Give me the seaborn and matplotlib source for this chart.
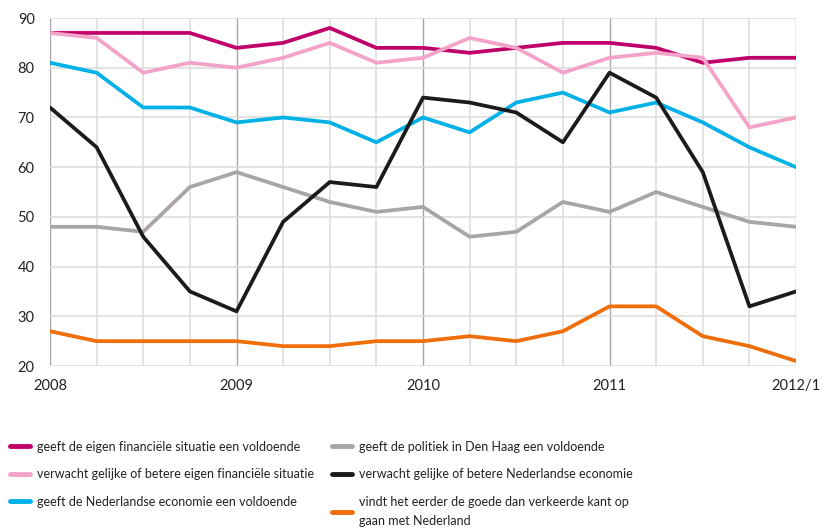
import numpy as np
import pandas as pd
import seaborn as sns
import matplotlib.pyplot as plt
from matplotlib.ticker import MultipleLocator

# quarterly points, 2008 .. 2012/1
quarters = list(range(17))
tick_pos = [0, 4, 8, 12, 16]
tick_labels = ['2008', '2009', '2010', '2011', '2012/1']

eigen_voldoende = [87, 87, 87, 87, 84, 85, 88, 84, 84, 83, 84, 85, 85, 84, 81, 82, 82]
eigen_verwacht = [87, 86, 79, 81, 80, 82, 85, 81, 82, 86, 84, 79, 82, 83, 82, 68, 70]
economie_voldoende = [81, 79, 72, 72, 69, 70, 69, 65, 70, 67, 73, 75, 71, 73, 69, 64, 60]
politiek_voldoende = [48, 48, 47, 56, 59, 56, 53, 51, 52, 46, 47, 53, 51, 55, 52, 49, 48]
economie_verwacht = [72, 64, 46, 35, 31, 49, 57, 56, 74, 73, 71, 65, 79, 74, 59, 32, 35]
goede_kant = [27, 25, 25, 25, 25, 24, 24, 25, 25, 26, 25, 27, 32, 32, 26, 24, 21]

labels = [
    'geeft de eigen financiële situatie een voldoende',
    'verwacht gelijke of betere eigen financiële situatie',
    'geeft de Nederlandse economie een voldoende',
    'geeft de politiek in Den Haag een voldoende',
    'verwacht gelijke of betere Nederlandse economie',
    'vindt het eerder de goede dan verkeerde kant op\ngaan met Nederland',
]
series = [eigen_voldoende, eigen_verwacht, economie_voldoende,
          politiek_voldoende, economie_verwacht, goede_kant]
colors = ['#c0006a', '#f4a3c8', '#00b1e8', '#a9a5a6', '#1b1a1c', '#ef6e0a']

frames = []
for lab, vals in zip(labels, series):
    frames.append(pd.DataFrame({'kwartaal': quarters, 'waarde': vals, 'reeks': lab}))
data = pd.concat(frames)

sns.set_style('white')
plt.rcParams['font.family'] = ['Lato', 'DejaVu Sans']

fig = plt.figure(figsize=(8.28, 5.30), dpi=100)
ax = fig.add_axes([0.0604, 0.3094, 0.901, 0.6566])

sns.lineplot(data=data, x='kwartaal', y='waarde', hue='reeks', hue_order=labels,
             palette=dict(zip(labels, colors)), linewidth=2.7, ax=ax, legend=False)

ax.set_xlim(0, 16)
ax.set_ylim(20, 90)
ax.set_xlabel('')
ax.set_ylabel('')
for s in ax.spines.values():
    s.set_visible(False)

ax.set_xticks(tick_pos)
ax.set_xticklabels(tick_labels)
ax.xaxis.set_minor_locator(MultipleLocator(1))
ax.set_yticks(range(20, 91, 10))
ax.grid(which='both', axis='x', color='#dddbdc', linewidth=1.1, zorder=0)
ax.grid(which='major', axis='x', color='#aaa6a7', linewidth=1.0, zorder=0)
ax.grid(which='major', axis='y', color='#dddbdc', linewidth=1.1, zorder=0)
ax.set_axisbelow(True)
ax.tick_params(axis='x', which='major', length=5, color='#aaa6a7', width=1.0,
               labelsize=10.5, labelcolor='#222222', pad=4)
ax.tick_params(axis='x', which='minor', length=5, color='#dddbdc', width=1.1)
ax.tick_params(axis='y', length=8, color='#dddbdc', width=1.1,
               labelsize=10.5, labelcolor='#222222', pad=3)

handles = [plt.Line2D([], [], color=c, linewidth=3.5) for c in colors]
leg = fig.legend(handles, labels, ncol=2, loc='upper left', bbox_to_anchor=(-0.002, 0.19),
                 frameon=False, fontsize=9, handlelength=1.6, handletextpad=0.6,
                 columnspacing=1.4, labelspacing=1.25, alignment='left')
for t in leg.get_texts():
    t.set_color('#222222')
    t.set_linespacing(1.7)

fig.savefig('out.png', dpi=100)
